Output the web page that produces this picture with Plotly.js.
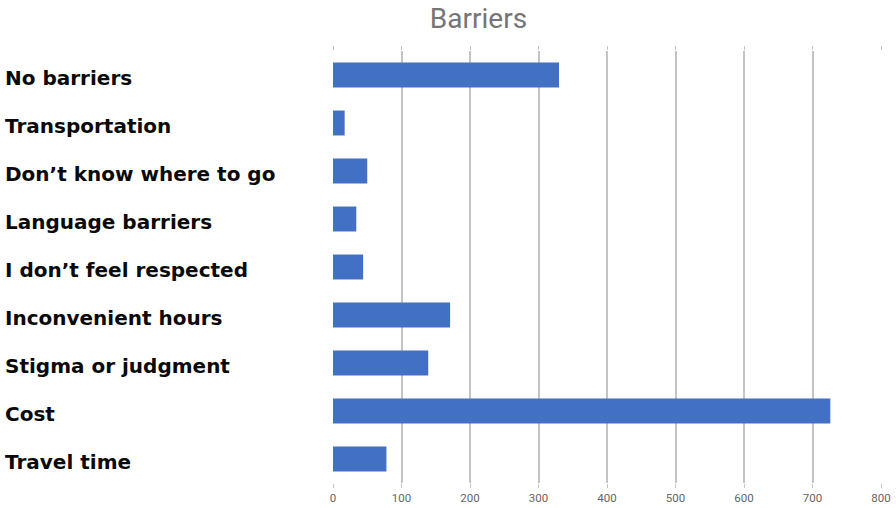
<!DOCTYPE html>
<html>
<head>
<meta charset="utf-8">
<script src="https://cdn.plot.ly/plotly-3.0.1.min.js"></script>
<style>
html,body{margin:0;padding:0;background:#fff;}
#chart{width:896px;height:508px;}
</style>
</head>
<body>
<div id="chart"></div>
<script>
const categories = ["No barriers","Transportation","Don\u2019t know where to go","Language barriers","I don\u2019t feel respected","Inconvenient hours","Stigma or judgment","Cost","Travel time"];
const counts = [330, 17, 50, 34, 44, 171, 139, 726, 78];
const xTicks = [0,100,200,300,400,500,600,700,800];

const trace = {
  type: 'bar',
  orientation: 'h',
  y: categories,
  x: counts,
  marker: {color: '#4170c4'},
  hoverinfo: 'x+y'
};

const annotations = categories.map(c => ({
  xref: 'paper', yref: 'y',
  x: -0.6025, y: c,
  xanchor: 'left', yanchor: 'middle',
  yshift: -3,
  text: '<b>' + c + '</b>',
  showarrow: false,
  font: {family: 'DejaVu Sans, sans-serif', size: 20, color: '#0a0a0a'}
}));

const layout = {
  width: 896, height: 508,
  margin: {l: 333, r: 15, t: 51, b: 25},
  paper_bgcolor: '#fff', plot_bgcolor: '#fff',
  title: {text: 'Barriers', x: 0.534, xanchor: 'center', y: 0.965, yanchor: 'middle',
          font: {family: 'Roboto, sans-serif', size: 28, color: '#757575'}},
  bargap: 0.48,
  showlegend: false,
  xaxis: {
    range: [0, 800], tickvals: xTicks, ticktext: xTicks.map(String),
    showgrid: true, gridcolor: '#c4c4c4', gridwidth: 2,
    zeroline: false, showline: false,
    ticks: 'outside', ticklen: 4, tickcolor: '#c4c4c4', tickwidth: 1,
    mirror: 'ticks',
    tickfont: {family: 'Roboto, sans-serif', size: 11.5, color: '#666'},
    fixedrange: true
  },
  yaxis: {
    autorange: 'reversed', showticklabels: false, showgrid: false,
    zeroline: false, showline: false, ticks: '', fixedrange: true
  },
  annotations: annotations
};

Plotly.newPlot('chart', [trace], layout, {displayModeBar: false, staticPlot: true});
</script>
</body>
</html>
